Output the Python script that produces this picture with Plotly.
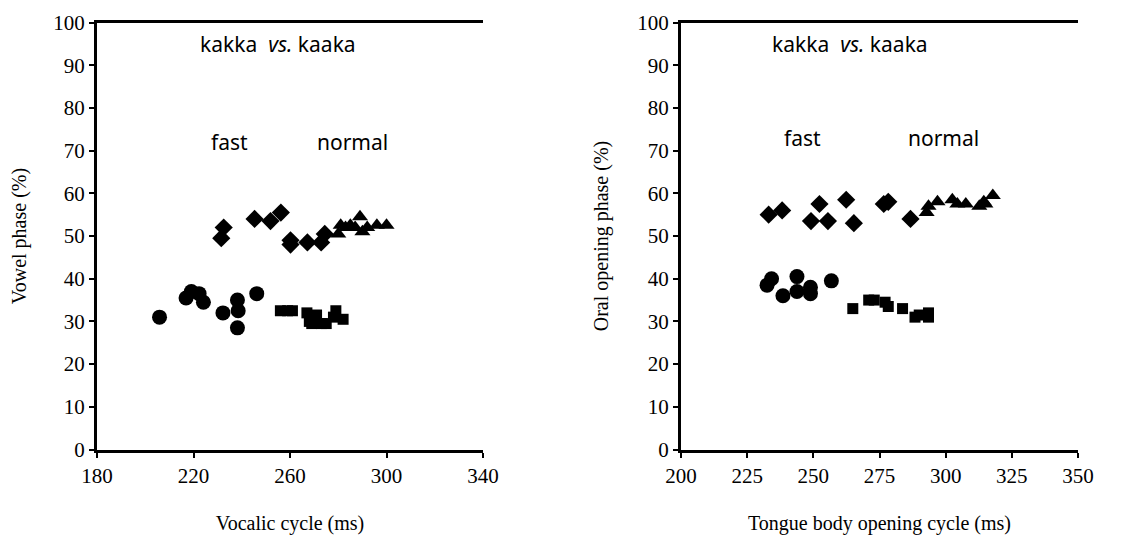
import plotly.graph_objects as go

# ---- Left panel: Vocalic cycle (ms) vs Vowel phase (%) ----
L_circle_x = [205.9, 216.9, 219.1, 222.3, 224.1, 232.2, 238.2, 238.5, 238.2, 246.2]
L_circle_y = [31.0, 35.5, 37.0, 36.5, 34.5, 32.0, 35.0, 32.5, 28.5, 36.5]

L_square_x = [256, 259, 261, 267, 268, 269, 271, 273, 275, 278, 279, 282]
L_square_y = [32.5, 32.5, 32.5, 32.0, 30.0, 29.5, 31.5, 29.5, 29.5, 31.0, 32.5, 30.5]

L_diamond_x = [232.5, 231.5, 245.3, 251.9, 256.2, 260.2, 260.2, 267.2, 272.9, 274.4]
L_diamond_y = [52.0, 49.5, 54.0, 53.5, 55.5, 49.0, 48.0, 48.5, 48.5, 50.5]

L_triangle_x = [280, 281, 283, 285, 287, 289, 290, 292, 296, 300]
L_triangle_y = [50.5, 52.5, 52.0, 52.5, 52.0, 54.5, 51.0, 52.0, 52.5, 52.5]

# ---- Right panel: Tongue body opening cycle (ms) vs Oral opening phase (%) ----
R_circle_x = [232.5, 234.2, 238.5, 243.8, 243.8, 248.9, 248.9, 256.8]
R_circle_y = [38.5, 40.0, 36.0, 37.0, 40.5, 38.0, 36.5, 39.5]

R_square_x = [264.9, 270.9, 273.0, 277.1, 278.3, 283.7, 288.4, 290.0, 293.5, 293.5]
R_square_y = [33.0, 35.0, 35.0, 34.5, 33.5, 33.0, 31.0, 31.5, 31.0, 32.0]

R_diamond_x = [233.1, 238.2, 249.1, 252.3, 255.5, 262.4, 265.3, 276.6, 278.3, 286.7]
R_diamond_y = [55.0, 56.0, 53.5, 57.5, 53.5, 58.5, 53.0, 57.5, 58.0, 54.0]

R_triangle_x = [292.8, 293.5, 296.9, 302.5, 304.4, 307.6, 312.7, 314.4, 315.0, 317.8]
R_triangle_y = [55.5, 57.0, 58.0, 58.5, 57.5, 57.5, 57.0, 58.0, 57.5, 59.5]

L_xticks = [180, 220, 260, 300, 340]
R_xticks = [200, 225, 250, 275, 300, 325, 350]
y_ticks = [0, 10, 20, 30, 40, 50, 60, 70, 80, 90, 100]

fig = go.Figure()

def add(x, y, sym, size, xa, ya):
    fig.add_trace(go.Scatter(x=x, y=y, mode="markers", xaxis=xa, yaxis=ya,
                             marker=dict(symbol=sym, size=size, color="black",
                                         line=dict(width=0)),
                             showlegend=False, hoverinfo="x+y", cliponaxis=False))

add(L_circle_x, L_circle_y, "circle", 15, "x", "y")
add(L_square_x, L_square_y, "square", 11, "x", "y")
add(L_diamond_x, L_diamond_y, "diamond", 14, "x", "y")
add(L_triangle_x, L_triangle_y, "triangle-up", 14, "x", "y")
add(R_circle_x, R_circle_y, "circle", 15, "x2", "y2")
add(R_square_x, R_square_y, "square", 11, "x2", "y2")
add(R_diamond_x, R_diamond_y, "diamond", 14, "x2", "y2")
add(R_triangle_x, R_triangle_y, "triangle-up", 14, "x2", "y2")

tickfont = dict(family="Liberation Serif", size=21, color="black")
titlefont = dict(family="Liberation Serif", size=20, color="black")

ax_common = dict(showgrid=False, zeroline=False, showline=True, linecolor="black",
                 linewidth=3, ticks="outside", ticklen=5, tickwidth=2,
                 tickcolor="black", tickfont=tickfont, automargin=False)

fig.update_layout(
    width=1146, height=542,
    margin=dict(l=0, r=0, t=0, b=0),
    paper_bgcolor="white", plot_bgcolor="white",
    xaxis=dict(domain=[0.0777, 0.4145], range=[180, 340], tickvals=L_xticks,
               title=dict(text="Vocalic cycle (ms)", font=titlefont, standoff=30),
               anchor="y", mirror=True, **ax_common),
    yaxis=dict(domain=[0.1854, 0.9732], range=[0, 100], tickvals=y_ticks,
               title=dict(text="Vowel phase (%)", font=titlefont, standoff=22),
               anchor="x", **ax_common),
    xaxis2=dict(domain=[0.5873, 0.9337], range=[200, 350], tickvals=R_xticks,
                title=dict(text="Tongue body opening cycle (ms)", font=titlefont, standoff=30),
                anchor="y2", mirror=True, **ax_common),
    yaxis2=dict(domain=[0.1854, 0.9732], range=[0, 100], tickvals=y_ticks,
                title=dict(text="Oral opening phase (%)", font=titlefont, standoff=24),
                anchor="x2", **ax_common),
)

txtfont = dict(family="Noto Sans", size=21, color="black")
ann = [
    ("x", "y", 255, 95, "kakka  <i>vs.</i> kaaka"),
    ("x", "y", 235, 72, "fast"),
    ("x", "y", 286, 72, "normal"),
    ("x2", "y2", 264, 95, "kakka  <i>vs.</i> kaaka"),
    ("x2", "y2", 246, 73, "fast"),
    ("x2", "y2", 299, 73, "normal"),
]
for xr, yr, xv, yv, t in ann:
    fig.add_annotation(xref=xr, yref=yr, x=xv, y=yv, text=t, showarrow=False,
                       font=txtfont)

fig.write_html("out.html")
